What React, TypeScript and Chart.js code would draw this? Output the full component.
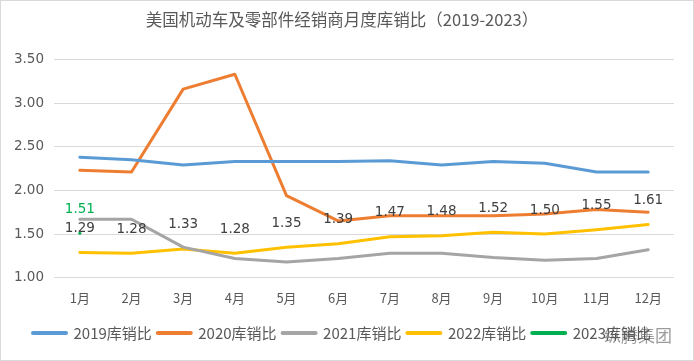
import React, { useEffect, useRef } from "react";
import { Chart, registerables } from "chart.js";

Chart.register(...registerables);

const months = ["1月", "2月", "3月", "4月", "5月", "6月", "7月", "8月", "9月", "10月", "11月", "12月"];
const ratio2019 = [2.38, 2.35, 2.29, 2.33, 2.33, 2.33, 2.34, 2.29, 2.33, 2.31, 2.21, 2.21];
const ratio2020 = [2.23, 2.21, 3.16, 3.33, 1.94, 1.65, 1.71, 1.71, 1.71, 1.73, 1.78, 1.75];
const ratio2021 = [1.67, 1.67, 1.35, 1.22, 1.18, 1.22, 1.28, 1.28, 1.23, 1.2, 1.22, 1.32];
const ratio2022 = [1.29, 1.28, 1.33, 1.28, 1.35, 1.39, 1.47, 1.48, 1.52, 1.5, 1.55, 1.61];
const ratio2023 = [1.51, null, null, null, null, null, null, null, null, null, null, null];
const seriesNames = ["2019库销比", "2020库销比", "2021库销比", "2022库销比", "2023库销比"];
const seriesColors = ["#5B9BD5", "#ED7D31", "#A5A5A5", "#FFC000", "#00B050"];
const titleText = "美国机动车及零部件经销商月度库销比（2019-2023）";
const labelledSeries = [3, 4];

const CJK = '"Noto Sans CJK SC", "Noto Sans", sans-serif';
const NUM = '"DejaVu Sans", "Noto Sans CJK SC", sans-serif';

const valueLabels = {
  id: "valueLabels",
  afterDatasetsDraw(chart: any) {
    const ctx = chart.ctx;
    labelledSeries.forEach((di) => {
      const meta = chart.getDatasetMeta(di);
      const ds = chart.data.datasets[di];
      meta.data.forEach((pt: any, i: number) => {
        const v = ds.data[i];
        if (v == null) return;
        ctx.save();
        ctx.font = `13.5px ${NUM}`;
        ctx.fillStyle = di === 4 ? "#00B050" : "#404040";
        ctx.textAlign = "center";
        ctx.textBaseline = "middle";
        ctx.fillText(Number(v).toFixed(2), pt.x, pt.y - 24);
        ctx.restore();
      });
    });
  },
};

export default function App() {
  const ref = useRef<HTMLCanvasElement | null>(null);

  useEffect(() => {
    document.body.style.margin = "0";
    if (!ref.current) return;
    const allData = [ratio2019, ratio2020, ratio2021, ratio2022, ratio2023];
    const chart = new Chart(ref.current, {
      type: "line",
      data: {
        labels: months,
        datasets: allData.map((d, i) => ({
          label: seriesNames[i],
          data: d,
          borderColor: seriesColors[i],
          backgroundColor: seriesColors[i],
          borderWidth: 3,
          pointRadius: 0,
          pointHoverRadius: 0,
          tension: 0,
          borderCapStyle: "round",
          borderJoinStyle: "round",
          spanGaps: false,
        })),
      },
      options: {
        responsive: false,
        animation: false,
        events: [],
        layout: { padding: { left: 10, right: 20, top: 0, bottom: 10.5 } },
        scales: {
          x: {
            offset: true,
            grid: { display: false, drawTicks: false, offset: true },
            border: { display: false },
            ticks: { padding: 13, color: "#595959", font: { family: CJK, size: 13 } },
            afterFit: (scale: any) => {
              scale.height = 41.8;
            },
          },
          y: {
            min: 1,
            max: 3.5,
            grid: { color: "#D9D9D9", lineWidth: 1, drawTicks: false },
            border: { display: false },
            ticks: {
              stepSize: 0.5,
              padding: 10,
              color: "#595959",
              font: { family: NUM, size: 13.5 },
              callback: (v: any) => Number(v).toFixed(2),
            },
            afterFit: (scale: any) => {
              scale.width = 44;
            },
          },
        },
        plugins: {
          title: {
            display: true,
            text: titleText,
            color: "#595959",
            font: { family: CJK, size: 16.5, weight: "normal" },
            padding: { top: 10, bottom: 29.6 },
          },
          legend: {
            position: "bottom",
            labels: {
              color: "#595959",
              font: { family: CJK, size: 15 },
              usePointStyle: true,
              pointStyle: "line",
              pointStyleWidth: 33,
              padding: 6,
              generateLabels: (c: any) => {
                const items = Chart.defaults.plugins.legend.labels.generateLabels(c);
                items.forEach((it: any) => {
                  it.lineWidth = 4;
                  it.lineCap = "round";
                });
                return items;
              },
            },
          },
          tooltip: { enabled: false },
        },
      },
      plugins: [valueLabels],
    } as any);
    return () => chart.destroy();
  }, []);

  return (
    <div style={{ position: "relative", width: 694, height: 361, background: "#fff" }}>
      <canvas ref={ref} width={694} height={361} style={{ display: "block" }} />
      <div
        style={{
          position: "absolute",
          inset: 0,
          border: "1px solid #D9D9D9",
          boxSizing: "border-box",
          pointerEvents: "none",
        }}
      />
      <div
        style={{
          position: "absolute",
          left: 604,
          top: 322,
          fontFamily: CJK,
          fontSize: 17,
          color: "rgba(90,90,90,0.6)",
          pointerEvents: "none",
        }}
      >
        纵腾集团
      </div>
    </div>
  );
}
